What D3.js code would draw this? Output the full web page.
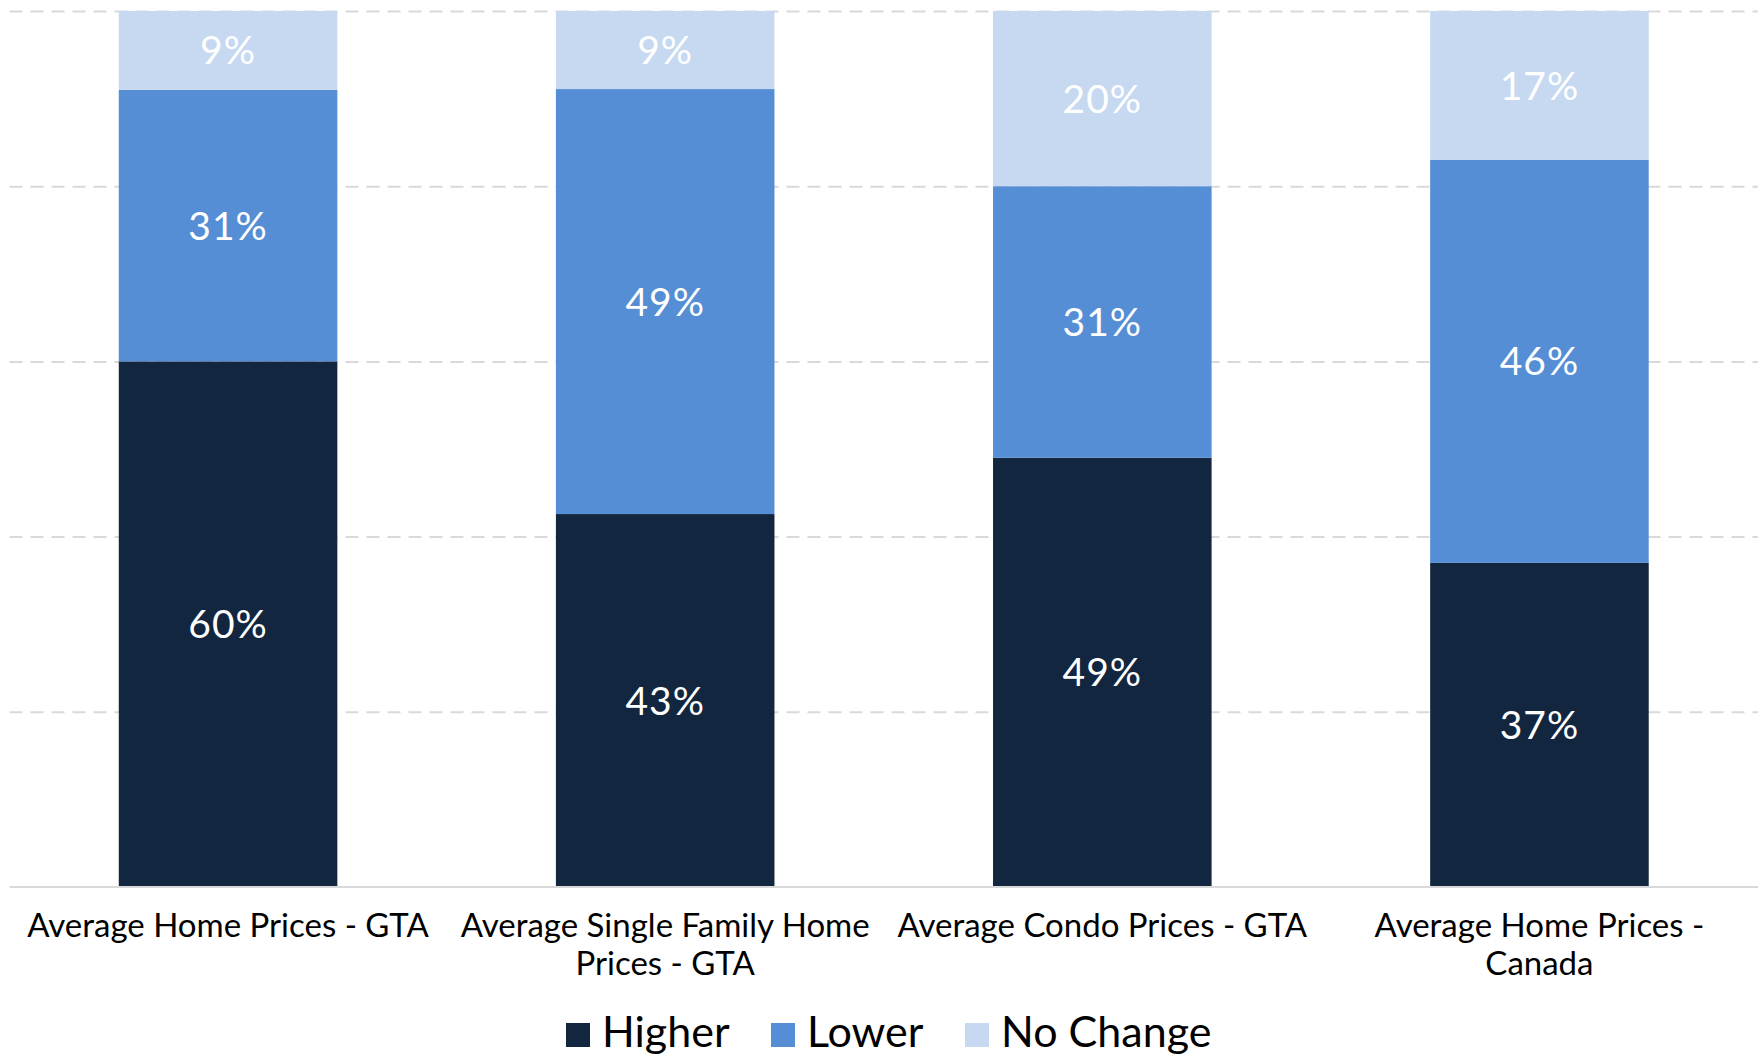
<!DOCTYPE html>
<html>
<head>
<meta charset="utf-8">
<script src="https://cdn.jsdelivr.net/npm/d3@7"></script>
<style>
  body { margin: 0; background: #fff; }
  text { font-family: Lato, "Noto Sans", sans-serif; }
</style>
</head>
<body>
<div id="chart"></div>
<script>
// chart data
var categories = [
  "Average Home Prices - GTA",
  "Average Single Family Home\nPrices - GTA",
  "Average Condo Prices - GTA",
  "Average Home Prices -\nCanada"
];
var seriesNames = ["Higher", "Lower", "No Change"];
var higher   = [60, 43, 49, 37];
var lower    = [31, 49, 31, 46];
var noChange = [9, 9, 20, 17];
var colors = ["#13263F", "#558ED5", "#C6D9F1"];

var width = 1763, height = 1058;
var plot = { left: 9.5, right: 1758, top: 11, bottom: 887 };

var svg = d3.select("#chart").append("svg")
  .attr("width", width)
  .attr("height", height);

// rows for the stack
var rows = categories.map(function (c, i) {
  return { cat: c, "Higher": higher[i], "Lower": lower[i], "No Change": noChange[i] };
});

// 100% stacked
var stacked = d3.stack()
  .keys(seriesNames)
  .offset(d3.stackOffsetExpand)(rows);

var x = d3.scaleBand()
  .domain(categories)
  .range([plot.left, plot.right])
  .paddingInner(0.5)
  .paddingOuter(0.25);

var y = d3.scaleLinear()
  .domain([0, 1])
  .range([plot.bottom, plot.top]);

var color = d3.scaleOrdinal().domain(seriesNames).range(colors);

// dashed gridlines
var grid = svg.append("g")
  .attr("transform", "translate(" + plot.left + ",0)")
  .call(d3.axisLeft(y).tickValues([0.2, 0.4, 0.6, 0.8, 1.0])
    .tickSize(-(plot.right - plot.left)).tickFormat(""));
grid.select(".domain").remove();
grid.selectAll("line")
  .attr("stroke", "#d9d9d9")
  .attr("stroke-width", 2)
  .attr("stroke-dasharray", "13,8");

// bars
var layers = svg.selectAll(".layer").data(stacked)
  .enter().append("g")
    .attr("class", "layer")
    .attr("fill", function (d) { return color(d.key); });

layers.selectAll("rect")
  .data(function (d) { return d; })
  .enter().append("rect")
    .attr("x", function (d) { return x(d.data.cat); })
    .attr("y", function (d) { return y(d[1]); })
    .attr("width", x.bandwidth())
    .attr("height", function (d) { return y(d[0]) - y(d[1]); });

// value labels
layers.each(function (layer) {
  d3.select(this).selectAll(".val")
    .data(layer)
    .enter().append("text")
      .attr("class", "val")
      .attr("x", function (d) { return x(d.data.cat) + x.bandwidth() / 2; })
      .attr("y", function (d) { return (y(d[0]) + y(d[1])) / 2; })
      .attr("dy", "0.36em")
      .attr("text-anchor", "middle")
      .attr("fill", "#fff")
      .attr("font-size", "39px")
      .attr("letter-spacing", "1px")
      .text(function (d) { return d.data[layer.key] + "%"; });
});

// x axis line
svg.append("line")
  .attr("x1", plot.left).attr("x2", plot.right)
  .attr("y1", y(0)).attr("y2", y(0))
  .attr("stroke", "#d9d9d9")
  .attr("stroke-width", 2);

// category labels
svg.selectAll(".cat")
  .data(categories)
  .enter().append("text")
    .attr("class", "cat")
    .attr("text-anchor", "middle")
    .attr("font-size", "33px")
    .attr("fill", "#000")
    .each(function (c) {
      var lines = c.split("\n");
      var t = d3.select(this);
      lines.forEach(function (l, i) {
        t.append("tspan")
          .attr("x", x(c) + x.bandwidth() / 2)
          .attr("y", 937 + i * 38)
          .text(l);
      });
    });

// legend
var legendX = [566, 771, 965];
var legend = svg.selectAll(".legend")
  .data(seriesNames)
  .enter().append("g")
    .attr("class", "legend")
    .attr("transform", function (d, i) { return "translate(" + legendX[i] + ",1023)"; });

legend.append("rect")
  .attr("width", 24)
  .attr("height", 24)
  .attr("fill", function (d) { return color(d); });

legend.append("text")
  .attr("x", 36)
  .attr("y", 24)
  .attr("font-size", "43px")
  .text(function (d) { return d; });
</script>
</body>
</html>
